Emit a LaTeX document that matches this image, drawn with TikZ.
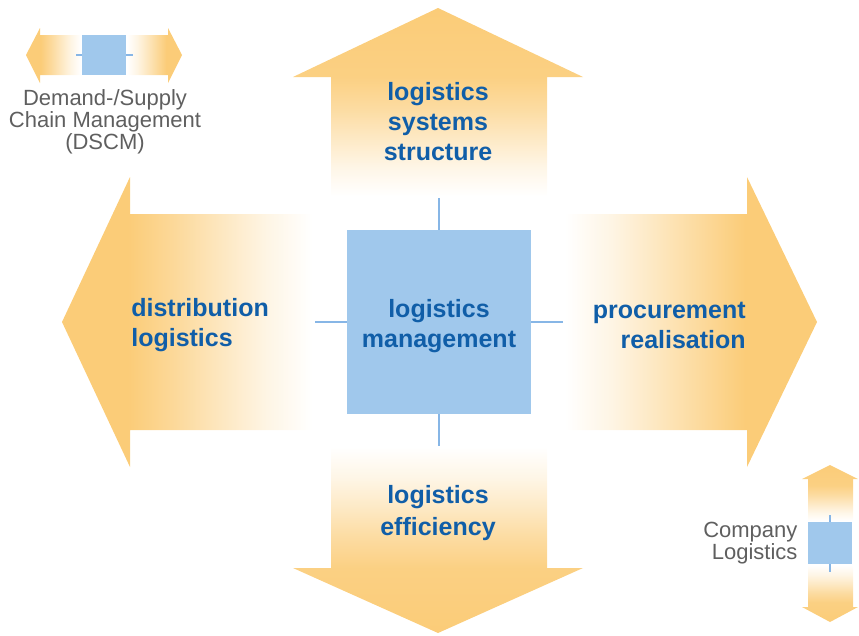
\documentclass[tikz,border=0pt]{standalone}
\usepackage{fontspec}
\setmainfont{Liberation Sans}
\usepackage{tikz}
\usetikzlibrary{positioning,calc}

\definecolor{armc}{RGB}{251,204,120}
\definecolor{hubc}{RGB}{160,200,236}
\definecolor{txtc}{RGB}{16,94,168}
\definecolor{stubc}{RGB}{135,182,230}
\definecolor{notec}{RGB}{95,95,95}

% fading arms (0bp = bottom / left)
\pgfdeclareverticalshading{fadeN}{100bp}{color(0bp)=(white); color(26bp)=(white); color(33.5bp)=(armc!18!white); color(41bp)=(armc!43!white); color(49bp)=(armc!70!white); color(57bp)=(armc!92!white); color(75bp)=(armc); color(100bp)=(armc)}
\pgfdeclareverticalshading{fadeS}{100bp}{color(0bp)=(armc); color(25bp)=(armc); color(42bp)=(armc!92!white); color(50bp)=(armc!70!white); color(58bp)=(armc!43!white); color(66bp)=(armc!18!white); color(74bp)=(white); color(100bp)=(white)}
\pgfdeclarehorizontalshading{fadeW}{100bp}{color(0bp)=(armc); color(38bp)=(armc); color(47bp)=(armc!75!white); color(56bp)=(armc!47!white); color(65bp)=(armc!20!white); color(74bp)=(white); color(100bp)=(white)}
\pgfdeclarehorizontalshading{fadeE}{100bp}{color(0bp)=(white); color(26bp)=(white); color(35bp)=(armc!20!white); color(44bp)=(armc!47!white); color(53bp)=(armc!75!white); color(61bp)=(armc); color(100bp)=(armc)}

\tikzset{
  every picture/.append style={line width=0.6pt},
}

\begin{document}
\begin{tikzpicture}[
  x=1pt, y=-1pt,
  arm/.style={draw=none},
  hub/.style={draw=none, fill=hubc, inner sep=0pt},
  lbl/.style={text=txtc, inner sep=0pt, font=\fontsize{25}{30}\selectfont\bfseries},
  note/.style={text=notec, inner sep=0pt, font=\fontsize{22}{22}\selectfont},
  stub/.style={draw=stubc, line width=2.5pt},
  smallstub/.style={draw=stubc, line width=1.5pt}
]
\useasboundingbox (0,0) rectangle (859,635);

% Main arms
\shade[arm, shading=fadeN] (331,200) -- (331,77) -- (293,77) -- (438,8) -- (583,77) -- (547,77) -- (547,200) -- cycle;
\shade[arm, shading=fadeS] (331,443) -- (547,443) -- (547,568) -- (583,568) -- (438,633) -- (293,568) -- (331,568) -- cycle;
\shade[arm, shading=fadeW] (317,214) -- (130,214) -- (130,177) -- (62,322) -- (130,467) -- (130,430) -- (317,430) -- cycle;
\shade[arm, shading=fadeE] (560,214) -- (747,214) -- (747,177) -- (817,322) -- (747,467) -- (747,430) -- (560,430) -- cycle;

% Hub and its stubs
\coordinate (stubN) at (439,198);
\coordinate (stubS) at (439,446);
\coordinate (stubW) at (315,322);
\coordinate (stubE) at (563,322);
\node[hub, minimum width=184pt, minimum height=184pt] (hub) at (439,322) {};
\draw[stub] (hub.north) -- (stubN);
\draw[stub] (hub.south) -- (stubS);
\draw[stub] (hub.west) -- (stubW);
\draw[stub] (hub.east) -- (stubE);

% Labels
\node[lbl, align=center] (lblhub) at (439,326) {logistics\\management};
\node[lbl, align=center] (lblN) at (438,122) {logistics\\systems\\structure};
\node[lbl, align=center, font=\fontsize{25}{32}\selectfont\bfseries] (lblS) at (438,513) {logistics\\efficiency};
\node[lbl, align=left, anchor=west] (lblW) at (131,325) {distribution\\logistics};
\node[lbl, align=right, anchor=east] (lblE) at (746,325) {procurement\\realisation};

% Legend: DSCM
\shade[arm, shading=fadeW] (82,35) -- (40,35) -- (40,28) -- (26,55) -- (40,83) -- (40,75) -- (82,75) -- cycle;
\shade[arm, shading=fadeE] (126,35) -- (168,35) -- (168,28) -- (182,55) -- (168,83) -- (168,75) -- (126,75) -- cycle;
\coordinate (dscmW) at (76,55);
\coordinate (dscmE) at (133,55);
\node[hub, minimum width=44pt, minimum height=40pt] (dscm) at (104,55) {};
\draw[smallstub] (dscm.west) -- (dscmW);
\draw[smallstub] (dscm.east) -- (dscmE);
\node[note, align=center, below=14pt of dscm, xshift=1pt] (dscmtxt) {Demand-/Supply\\Chain Management\\(DSCM)};

% Legend: company logistics
\shade[arm, shading=fadeN] (808,522) -- (808,479) -- (802,479) -- (830,465) -- (858,479) -- (853,479) -- (853,522) -- cycle;
\shade[arm, shading=fadeS] (808,564) -- (853,564) -- (853,607) -- (858,607) -- (830,622) -- (802,607) -- (808,607) -- cycle;
\coordinate (compN) at (830,515);
\coordinate (compS) at (830,572);
\node[hub, minimum width=44pt, minimum height=42pt] (comp) at (830,543) {};
\draw[smallstub] (comp.north) -- (compN);
\draw[smallstub] (comp.south) -- (compS);
\node[note, align=right, left=10pt of comp] (comptxt) {Company\\Logistics};

\end{tikzpicture}
\end{document}
